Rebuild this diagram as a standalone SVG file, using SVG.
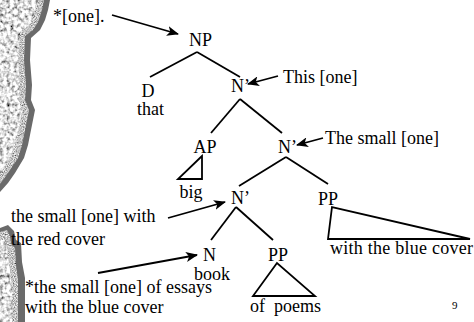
<svg xmlns="http://www.w3.org/2000/svg" width="474" height="322" viewBox="0 0 474 322">
<style>
text{font-family:"Liberation Serif","Times New Roman",serif;font-size:18px;fill:#000}
.edge{stroke:#000;stroke-width:1.8;fill:none}
.arr{stroke:#000;stroke-width:1.8;fill:none;marker-end:url(#ah)}
.tri{stroke:#000;stroke-width:1.8;fill:none;stroke-linejoin:miter}
.num{font-size:11px}
</style>
<defs>
<marker id="ah" viewBox="0 0 12 10" refX="11" refY="5" markerWidth="12" markerHeight="10" markerUnits="userSpaceOnUse" orient="auto">
<path d="M0,0 L12,5 L0,10 L3,5 z" fill="#000"/>
</marker>
<filter id="stone" x="0" y="0" width="100%" height="100%">
<feTurbulence type="fractalNoise" baseFrequency="0.28" numOctaves="2" seed="4" result="n"/>
<feColorMatrix in="n" type="matrix" values="2.2 0 0 0 -0.35  2.2 0 0 0 -0.35  2.2 0 0 0 -0.35  0 0 0 0 1" result="g"/>
<feComposite in="g" in2="SourceGraphic" operator="in"/>
</filter>
<filter id="speck" x="0" y="0" width="100%" height="100%">
<feTurbulence type="fractalNoise" baseFrequency="0.9" numOctaves="1" seed="7" result="n"/>
<feColorMatrix in="n" type="matrix" values="1.6 0 0 0 -0.25  1.6 0 0 0 -0.25  1.6 0 0 0 -0.25  0 0 0 0 1" result="g"/>
<feComposite in="g" in2="SourceGraphic" operator="in"/>
</filter>
</defs>
<rect width="474" height="322" fill="#fff"/>
<g id="stone-border">
<polygon points="0,0 50,0 48,10 45,20 40,30 31,38 30,60 32,85 31,100 35,110 32,125 28,145 24,158 15,173 8,183 0,192" fill="#6a6a6a"/>
<polygon points="0,0 44,0 42,10 38,22 33,30 25,36 24,60 26,85 25,100 29,110 26,125 22,145 18,158 10,170 3,180 0,184" fill="#888" filter="url(#speck)"/>
<polygon points="0,0 38,0 35,12 30,24 20,32 18,60 20,85 19,100 22,112 19,128 15,145 10,158 3,170 0,174" fill="#aaa" filter="url(#stone)"/>
<polygon points="0,228 8,225 14,231 16,240 21,243 22,262 25,278 25,322 0,322" fill="#6a6a6a"/>
<polygon points="0,232 7,230 10,236 11,244 15,248 16,265 18,280 18,322 0,322" fill="#888" filter="url(#speck)"/>
<polygon points="0,240 5,240 7,250 10,270 12,285 12,322 0,322" fill="#aaa" filter="url(#stone)"/>
</g>
<g id="connectors">
<line class="edge" x1="197" y1="52" x2="150" y2="77"/>
<line class="edge" x1="197" y1="52" x2="240" y2="77"/>
<line class="edge" x1="240" y1="99" x2="211" y2="133"/>
<line class="edge" x1="240" y1="99" x2="282" y2="133"/>
<line class="edge" x1="286" y1="157" x2="239" y2="186"/>
<line class="edge" x1="286" y1="157" x2="328" y2="184"/>
<line class="edge" x1="236" y1="207" x2="211" y2="240"/>
<line class="edge" x1="236" y1="207" x2="273" y2="240"/>
<line class="arr" x1="112" y1="15" x2="178" y2="34"/>
<line class="arr" x1="278" y1="76" x2="248" y2="84"/>
<line class="arr" x1="323" y1="138" x2="297" y2="145"/>
<line class="arr" x1="168" y1="218" x2="225" y2="202"/>
<line class="arr" x1="98" y1="273" x2="197" y2="255"/>
</g>
<g id="label-star-one"><text x="53" y="22">*[one].</text></g>
<g id="node-NP"><text x="189" y="46">NP</text></g>
<g id="node-D"><text x="141.5" y="97">D</text><text x="137" y="115">that</text></g>
<g id="node-Nbar1"><text x="231" y="92">N’</text></g>
<g id="label-this-one"><text x="283" y="83">This [one]</text></g>
<g id="node-AP"><text x="193.5" y="153">AP</text><polygon class="tri" points="202,156 178,179 202,179"/><text x="179.5" y="198">big</text></g>
<g id="node-Nbar2"><text x="278" y="153">N’</text></g>
<g id="label-the-small-one"><text x="325" y="144">The small [one]</text></g>
<g id="node-Nbar3"><text x="231" y="204">N’</text></g>
<g id="label-red-cover"><text x="11" y="222">the small [one] with</text><text x="11" y="245">the red cover</text></g>
<g id="node-PP-blue"><text x="318" y="205">PP</text><polygon class="tri" points="332,207 328,239 470,239"/><text x="330" y="254" textLength="143">with the blue cover</text></g>
<g id="node-N"><text x="203" y="261">N</text><text x="194" y="280">book</text></g>
<g id="label-essays"><text x="25" y="293">*the small [one] of essays</text><text x="25" y="313">with the blue cover</text></g>
<g id="node-PP-poems"><text x="268" y="261">PP</text><polygon class="tri" points="277,263 253,296 315,296"/><text x="250" y="312" xml:space="preserve">of  poems</text></g>
<g id="page-number"><text class="num" x="452" y="309">9</text></g>
</svg>
